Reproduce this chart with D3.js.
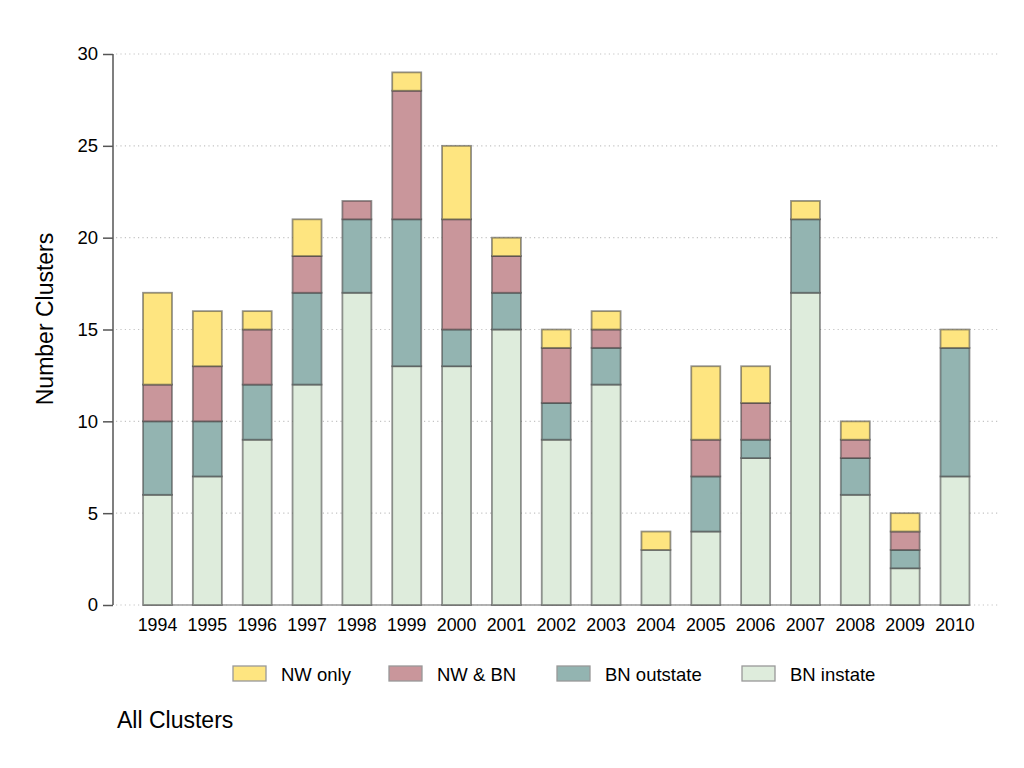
<!DOCTYPE html>
<html>
<head>
<meta charset="utf-8">
<script src="https://cdn.jsdelivr.net/npm/d3@7"></script>
<style>
    html, body { margin: 0; padding: 0; background: #fff; }
    svg { display: block; font-family: "Liberation Sans", Arial, sans-serif; }
</style>
</head>
<body>
<svg id="chart" width="1024" height="768"></svg>
<script>
const years = ["1994", "1995", "1996", "1997", "1998", "1999", "2000", "2001", "2002",
    "2003", "2004", "2005", "2006", "2007", "2008", "2009", "2010"];
const bnInstate  = [6, 7, 9, 12, 17, 13, 13, 15, 9, 12, 3, 4, 8, 17, 6, 2, 7];
const bnOutstate = [4, 3, 3, 5, 4, 8, 2, 2, 2, 2, 0, 3, 1, 4, 2, 1, 7];
const nwAndBn    = [2, 3, 3, 2, 1, 7, 6, 2, 3, 1, 0, 2, 2, 0, 1, 1, 0];
const nwOnly     = [5, 3, 1, 2, 0, 1, 4, 1, 1, 1, 1, 4, 2, 1, 1, 1, 1];
const yTicks = [0, 5, 10, 15, 20, 25, 30];

// stacking order bottom -> top
const seriesKeys = ["BN instate", "BN outstate", "NW & BN", "NW only"];
const seriesValues = [bnInstate, bnOutstate, nwAndBn, nwOnly];
const colors = {
    "NW only": "#fee580",
    "NW & BN": "#c9969b",
    "BN outstate": "#93b4b1",
    "BN instate": "#deecdc",
};
const legendOrder = ["NW only", "NW & BN", "BN outstate", "BN instate"];

const svg = d3.select("#chart");
const plotTop = 54, plotBottom = 605, axisX = 113, plotRight = 999.5;

const x = d3.scaleBand().domain(years).range([axisX, plotRight])
    .paddingInner(0.418).paddingOuter(0.602);
const y = d3.scaleLinear().domain([0, 30]).range([plotBottom, plotTop]);

const rows = years.map((yr, i) => {
    const r = { year: yr };
    seriesKeys.forEach((k, j) => { r[k] = seriesValues[j][i]; });
    return r;
});
const stack = d3.stack().keys(seriesKeys)(rows);

// dotted gridlines
svg.append("g").selectAll("line")
    .data(yTicks)
    .join("line")
    .attr("x1", axisX + 3).attr("x2", plotRight)
    .attr("y1", (d) => y(d)).attr("y2", (d) => y(d))
    .attr("stroke", "#c4c4c4")
    .attr("stroke-width", 1.2)
    .attr("stroke-dasharray", "1.2,3.2");

// baseline under bars
svg.append("line")
    .attr("x1", x(years[0])).attr("x2", x(years[years.length - 1]) + x.bandwidth())
    .attr("y1", y(0)).attr("y2", y(0))
    .attr("stroke", "#9a9a9a").attr("stroke-width", 1.5);

// bars (semi-transparent strokes so shared edges come out darker)
svg.append("g").selectAll("g")
    .data(stack)
    .join("g")
    .attr("fill", (d) => colors[d.key])
    .selectAll("rect")
    .data((d) => d)
    .join("rect")
    .attr("x", (d) => x(d.data.year))
    .attr("width", x.bandwidth())
    .attr("y", (d) => y(d[1]))
    .attr("height", (d) => y(d[0]) - y(d[1]))
    .attr("stroke", "rgba(60,60,60,0.55)")
    .attr("stroke-width", 1.8);

// y axis
const yAxis = svg.append("g")
    .attr("transform", `translate(${axisX},0)`)
    .call(d3.axisLeft(y).tickValues(yTicks).tickSize(10).tickPadding(5));
yAxis.select(".domain").attr("stroke", "#555").attr("stroke-width", 1.5)
    .attr("d", `M0,${plotTop}V${plotBottom}`);
yAxis.selectAll(".tick line").attr("stroke", "#555").attr("stroke-width", 1.5);
yAxis.selectAll(".tick text").attr("font-size", "18.5px").attr("fill", "#000")
    .attr("font-family", "Liberation Sans, Arial, sans-serif");

// x labels
svg.append("g").selectAll("text")
    .data(years)
    .join("text")
    .attr("x", (d) => x(d) + x.bandwidth() / 2)
    .attr("y", 631)
    .attr("text-anchor", "middle")
    .attr("font-size", "17.8px")
    .attr("fill", "#000")
    .text((d) => d);

// y title
svg.append("text")
    .attr("transform", "translate(53,319) rotate(-90)")
    .attr("text-anchor", "middle")
    .attr("font-size", "23px")
    .attr("fill", "#000")
    .text("Number Clusters");

// legend
const legendX = [233, 389, 557, 742];
const legend = svg.append("g");
legendOrder.forEach((k, i) => {
    const g = legend.append("g").attr("transform", `translate(${legendX[i]},666)`);
    g.append("rect").attr("width", 33).attr("height", 15)
        .attr("fill", colors[k]).attr("stroke", "#999").attr("stroke-width", 1.3);
    g.append("text").attr("x", 48).attr("y", 15)
        .attr("font-size", "18.5px").attr("fill", "#000").text(k);
});

// note
svg.append("text")
    .attr("x", 117).attr("y", 728)
    .attr("font-size", "23px")
    .attr("fill", "#000")
    .text("All Clusters");
</script>
</body>
</html>
